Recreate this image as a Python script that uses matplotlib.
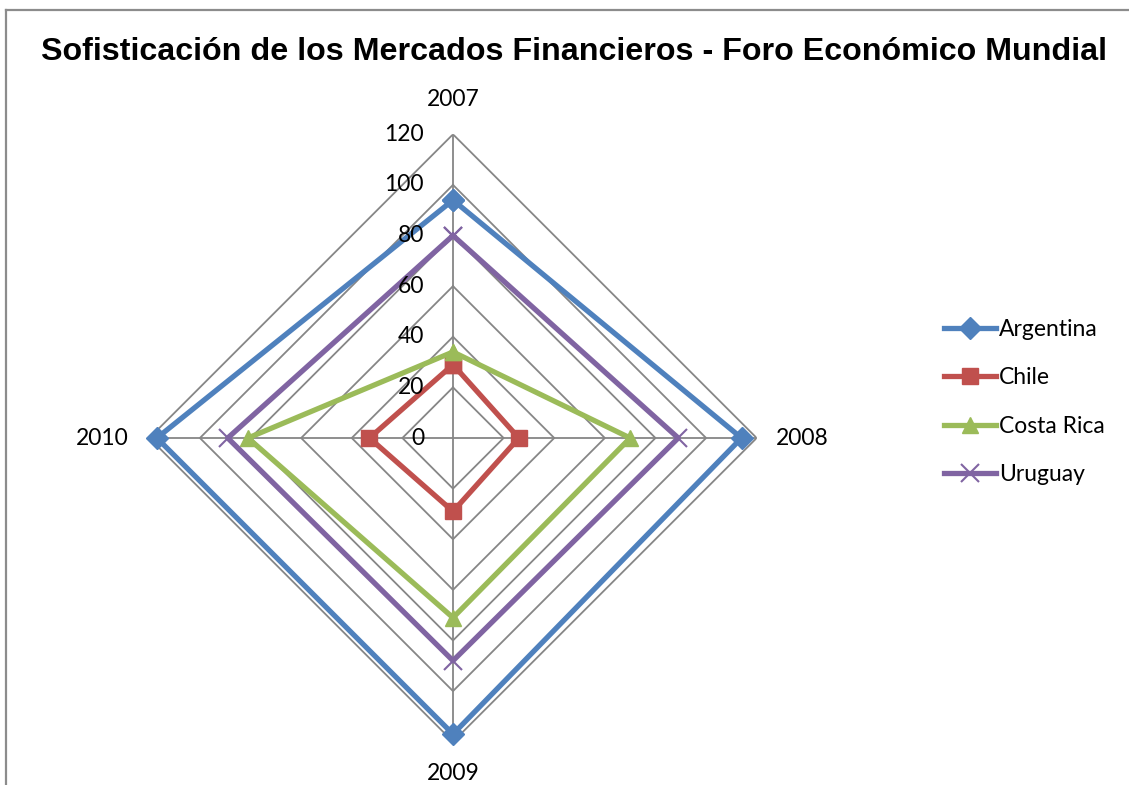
import numpy as np
import matplotlib
matplotlib.use("Agg")
import matplotlib.pyplot as plt
from matplotlib.lines import Line2D

categories = ["2007", "2008", "2009", "2010"]
series_names = ["Argentina", "Chile", "Costa Rica", "Uruguay"]
argentina = [94, 114, 117, 117]
chile = [29, 26, 29, 33]
costa_rica = [34, 70, 71, 81]
uruguay = [80, 89, 88, 89]
r_ticks = [0, 20, 40, 60, 80, 100, 120]
title = "Sofisticación de los Mercados Financieros - Foro Económico Mundial"

values = [argentina, chile, costa_rica, uruguay]
colors = ["#4F81BD", "#C0504D", "#9BBB59", "#8064A2"]
markers = ["D", "s", "^", "x"]
msizes = [11, 12, 12, 13]

W, H = 1129, 785
fig = plt.figure(figsize=(W / 100, H / 100), dpi=100)
fig.patch.set_facecolor("white")

# frame lines (left and top)
fig.add_artist(Line2D([5.5 / W, 5.5 / W], [0, 1 - 9.5 / H], color="#8C8C8C", lw=1.6,
                      transform=fig.transFigure))
fig.add_artist(Line2D([5.5 / W, 1], [1 - 9.5 / H, 1 - 9.5 / H], color="#8C8C8C", lw=1.6,
                      transform=fig.transFigure))

cx, cy, R = 453, 785 - 438, 303.7
ax = fig.add_axes([(cx - R) / W, (cy - R) / H, 2 * R / W, 2 * R / H], projection="polar")
ax.set_theta_zero_location("N")
ax.set_theta_direction(-1)
ax.set_ylim(0, 120)
ax.grid(False)
ax.spines["polar"].set_visible(False)
ax.set_xticks([])
ax.set_yticks([])
ax.patch.set_alpha(0)

n = len(categories)
angles = np.arange(n) * 2 * np.pi / n
closed = np.concatenate([angles, angles[:1]])

# polygon grid
for r in r_ticks[1:]:
    ax.plot(closed, [r] * (n + 1), color="#868686", lw=1.3, zorder=1)
for a in angles:
    ax.plot([a, a], [0, 120], color="#868686", lw=1.3, zorder=1)

# tick labels
lab_font = "Lato"
fs = 16.5
for r in r_ticks:
    ax.annotate(str(r), xy=(0, r), xytext=(-29, 0), textcoords="offset pixels",
                ha="right", va="center", fontsize=fs, family=lab_font, zorder=5)

# category labels
offsets = [(0, 35, "center", "center"), (19, 0, "left", "center"),
           (0, -32, "center", "center"), (-21, 0, "right", "center")]
for a, lab, (dx, dy, ha, va) in zip(angles, categories, offsets):
    ax.annotate(lab, xy=(a, 120), xytext=(dx, dy), textcoords="offset pixels",
                ha=ha, va=va, fontsize=fs, family=lab_font, annotation_clip=False)

handles = []
for name, vals, c, m, ms in zip(series_names, values, colors, markers, msizes):
    v = list(vals) + [vals[0]]
    mew = 1.5 if m == "x" else 1
    h, = ax.plot(closed, v, color=c, lw=3.8, marker=m, markersize=ms,
                 markerfacecolor=c, markeredgecolor=c, markeredgewidth=mew,
                 label=name, zorder=3, clip_on=False)
    handles.append(h)

fig.text(0.5085, 1 - 52 / H, title, ha="center", va="center", fontsize=23.2,
         fontweight="bold", family="Liberation Sans")

leg = fig.legend(handles=handles, loc="center left",
                 bbox_to_anchor=(933 / W, 1 - 402 / H), frameon=False,
                 prop={"family": lab_font, "size": fs}, handlelength=2.25,
                 handletextpad=0.12, labelspacing=1.2, borderpad=0)

fig.savefig("out.png", dpi=100, facecolor="white")
